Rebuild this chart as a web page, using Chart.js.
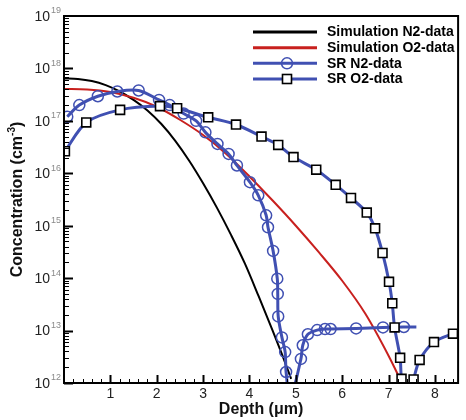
<!DOCTYPE html>
<html>
<head>
<meta charset="utf-8">
<script src="https://cdn.jsdelivr.net/npm/chart.js@4"></script>
<style>
  html, body { margin: 0; padding: 0; background: #fff; }
  #wrap { width: 466px; height: 420px; }
</style>
</head>
<body>
<div id="wrap"><canvas id="chart" width="466" height="420"></canvas></div>
<script>
// depth in um, concentration in cm^-3
const simN2Depth = [0, 0.3, 0.6, 0.9, 1.2, 1.5, 1.8, 2.1, 2.4, 2.7, 3.0, 3.3, 3.6, 3.9, 4.2, 4.5, 4.7, 4.9];
const simN2Conc = [6.46e17, 6.31e17, 5.75e17, 4.79e17, 3.63e17, 2.51e17, 1.58e17, 8.71e16, 4.17e16, 1.74e16,
  6.46e15, 2.19e15, 6.76e14, 1.91e14, 4.47e13, 1.0e13, 3.55e12, 1.20e12];

const simO2Depth = [0, 0.5, 1.0, 1.5, 2.0, 2.5, 3.0, 3.5, 4.0, 4.5, 5.0, 5.5, 6.0, 6.5, 7.0, 7.3];
const simO2Conc = [4.07e17, 3.98e17, 3.55e17, 2.75e17, 1.86e17, 1.05e17, 5.37e16, 2.34e16, 8.71e15, 3.02e15,
  1.0e15, 3.09e14, 8.91e13, 2.09e13, 3.31e12, 9.55e11];

const srN2Depth = [0.07, 0.33, 0.73, 1.15, 1.61, 2.05, 2.28, 2.58, 2.85, 3.05, 3.31, 3.55, 3.73, 4.01, 4.19, 4.36,
  4.40, 4.51, 4.60, 4.61, 4.62, 4.70, 4.77, 4.79, 4.88, 5.11, 5.15, 5.26, 5.46, 5.63, 5.75, 6.30, 6.88, 7.33, 7.60];
const srN2Conc = [1.20e17, 2.00e17, 2.95e17, 3.63e17, 3.80e17, 2.51e17, 2.00e17, 1.38e17, 1.00e17, 6.03e16,
  3.63e16, 2.34e16, 1.41e16, 6.76e15, 3.80e15, 1.58e15, 9.33e14, 3.31e14, 9.77e13, 5.01e13, 1.86e13, 7.41e12,
  3.89e12, 1.62e12, 5.0e11, 2.88e12, 5.25e12, 8.51e12, 1.02e13, 1.07e13, 1.07e13, 1.10e13, 1.15e13, 1.17e13, 1.17e13];

const srO2Depth = [0.02, 0.48, 1.21, 2.07, 2.44, 3.11, 3.71, 4.26, 4.62, 4.95, 5.44, 5.86, 6.19, 6.53, 6.71, 6.87,
  7.01, 7.08, 7.13, 7.25, 7.28, 7.41, 7.54, 7.67, 7.98, 8.39, 8.60];
const srO2Conc = [2.63e16, 9.33e16, 1.62e17, 1.91e17, 1.74e17, 1.17e17, 8.51e16, 5.01e16, 3.47e16, 2.04e16,
  1.17e16, 6.03e15, 3.39e15, 1.78e15, 8.91e14, 3.02e14, 8.51e13, 3.31e13, 1.15e13, 3.02e12, 1.20e12, 4.0e11,
  1.17e12, 2.75e12, 6.03e12, 8.71e12, 9.55e12];

const seriesNames = ["Simulation N2-data", "Simulation O2-data", "SR N2-data", "SR O2-data"];
const xTicks = [1, 2, 3, 4, 5, 6, 7, 8];
const yExponents = [12, 13, 14, 15, 16, 17, 18, 19];

const BLUE = "#4050b2";
const FONT = '"Liberation Sans", Arial, Helvetica, sans-serif';

function pts(xs, ys) {
  return xs.map((x, i) => ({ x: x, y: ys[i] }));
}

// markers hidden where the line runs off the plot or simply ends
function markerSize(size) {
  return function (c) {
    if (!c.raw) return size;
    const last = c.dataIndex === c.dataset.data.length - 1;
    return (c.raw.y < 1e12 || last) ? 0 : size;
  };
}

const decor = {
  id: "decor",
  afterDraw(chart) {
    const ctx = chart.ctx;
    const a = chart.chartArea;
    const xs = chart.scales.x;
    const ys = chart.scales.y;
    ctx.save();

    // frame
    ctx.strokeStyle = "#000";
    ctx.lineWidth = 2;
    ctx.strokeRect(a.left, a.top, a.right - a.left, a.bottom - a.top);

    // x ticks, pointing inward
    for (let i = 1; i <= 42; i++) {
      const px = Math.round(xs.getPixelForValue(i * 0.2)) + 0.5;
      const major = i % 5 === 0;
      ctx.lineWidth = major ? 2 : 1;
      ctx.beginPath();
      ctx.moveTo(px, a.bottom);
      ctx.lineTo(px, a.bottom - (major ? 8 : 4));
      ctx.stroke();
    }
    // y ticks (log)
    for (let e = 12; e < 19; e++) {
      for (let k = 1; k <= 9; k++) {
        const py = Math.round(ys.getPixelForValue(k * Math.pow(10, e))) + 0.5;
        const major = k === 1;
        ctx.lineWidth = major ? 2 : 1;
        ctx.beginPath();
        ctx.moveTo(a.left, py);
        ctx.lineTo(a.left + (major ? 9 : 5), py);
        ctx.stroke();
      }
    }

    // x tick labels
    ctx.fillStyle = "#222";
    ctx.font = "14px " + FONT;
    ctx.textAlign = "center";
    ctx.textBaseline = "middle";
    xTicks.forEach(v => ctx.fillText(String(v), xs.getPixelForValue(v), a.bottom + 11));

    // y tick labels 10^n
    yExponents.forEach(e => {
      const py = ys.getPixelForValue(Math.pow(10, e));
      ctx.font = "14px " + FONT;
      ctx.fillStyle = "#222";
      ctx.textAlign = "right";
      ctx.fillText("10", 50, py + 1);
      ctx.font = "9px " + FONT;
      ctx.fillStyle = "#8a8a8a";
      ctx.textAlign = "left";
      ctx.fillText(String(e), 51, py - 5);
    });

    // axis titles
    ctx.fillStyle = "#111";
    ctx.font = "bold 16px " + FONT;
    ctx.textAlign = "center";
    ctx.fillText("Depth (\u03bcm)", (a.left + a.right) / 2, 410);

    ctx.save();
    ctx.translate(18, (a.top + a.bottom) / 2);
    ctx.rotate(-Math.PI / 2);
    const t1 = "Concentration (cm", t2 = "-3", t3 = ")";
    ctx.font = "bold 16px " + FONT;
    const w1 = ctx.measureText(t1).width, w3 = ctx.measureText(t3).width;
    ctx.font = "bold 10px " + FONT;
    const w2 = ctx.measureText(t2).width;
    let sx = -(w1 + w2 + w3) / 2;
    ctx.textAlign = "left";
    ctx.font = "bold 16px " + FONT;
    ctx.fillText(t1, sx, 0);
    sx += w1;
    ctx.font = "bold 10px " + FONT;
    ctx.fillText(t2, sx, -6);
    sx += w2;
    ctx.font = "bold 16px " + FONT;
    ctx.fillText(t3, sx, 0);
    ctx.restore();

    // legend
    const rows = [32, 47.7, 63.3, 79];
    chart.data.datasets.forEach((ds, i) => {
      const y = rows[i];
      ctx.strokeStyle = ds.borderColor;
      ctx.lineWidth = 3;
      ctx.beginPath();
      ctx.moveTo(253, y);
      ctx.lineTo(317, y);
      ctx.stroke();
      if (ds.legendMarker === "circle") {
        ctx.lineWidth = 1.5;
        ctx.strokeStyle = ds.pointBorderColor;
        ctx.beginPath();
        ctx.arc(287, y, 5.5, 0, Math.PI * 2);
        ctx.stroke();
      } else if (ds.legendMarker === "rect") {
        ctx.lineWidth = 1.6;
        ctx.fillStyle = "#fff";
        ctx.strokeStyle = ds.pointBorderColor;
        ctx.fillRect(282.5, y - 4.5, 9, 9);
        ctx.strokeRect(282.5, y - 4.5, 9, 9);
      }
      ctx.fillStyle = "#000";
      ctx.font = "bold 14px " + FONT;
      ctx.textAlign = "left";
      ctx.textBaseline = "middle";
      ctx.fillText(ds.label, 327, y + 0.5);
    });

    ctx.restore();
  }
};

new Chart(document.getElementById("chart"), {
  type: "line",
  data: {
    datasets: [
      {
        label: seriesNames[0],
        data: pts(simN2Depth, simN2Conc),
        borderColor: "#000",
        borderWidth: 2,
        pointRadius: 0,
        cubicInterpolationMode: "monotone",
        order: 3
      },
      {
        label: seriesNames[1],
        data: pts(simO2Depth, simO2Conc),
        borderColor: "#c8201e",
        borderWidth: 2,
        pointRadius: 0,
        cubicInterpolationMode: "monotone",
        order: 2
      },
      {
        label: seriesNames[2],
        data: pts(srN2Depth, srN2Conc),
        borderColor: BLUE,
        borderWidth: 3,
        tension: 0.3,
        pointStyle: "circle",
        pointRadius: markerSize(5.5),
        pointBorderWidth: 1.5,
        pointBorderColor: BLUE,
        pointBackgroundColor: "rgba(0,0,0,0)",
        legendMarker: "circle",
        order: 1
      },
      {
        label: seriesNames[3],
        data: pts(srO2Depth, srO2Conc),
        borderColor: BLUE,
        borderWidth: 3,
        tension: 0.3,
        pointStyle: "rect",
        pointRadius: markerSize(6.3),
        pointBorderWidth: 1.6,
        pointBorderColor: "#000",
        pointBackgroundColor: "#fff",
        legendMarker: "rect",
        order: 0
      }
    ]
  },
  options: {
    responsive: false,
    animation: false,
    events: [],
    layout: { padding: { left: 64, top: 16, right: 1, bottom: 37 } },
    plugins: { legend: { display: false }, tooltip: { enabled: false } },
    scales: {
      x: { type: "linear", min: 0, max: 8.5, display: false },
      y: { type: "logarithmic", min: 1e12, max: 1e19, display: false }
    }
  },
  plugins: [decor]
});
</script>
</body>
</html>
